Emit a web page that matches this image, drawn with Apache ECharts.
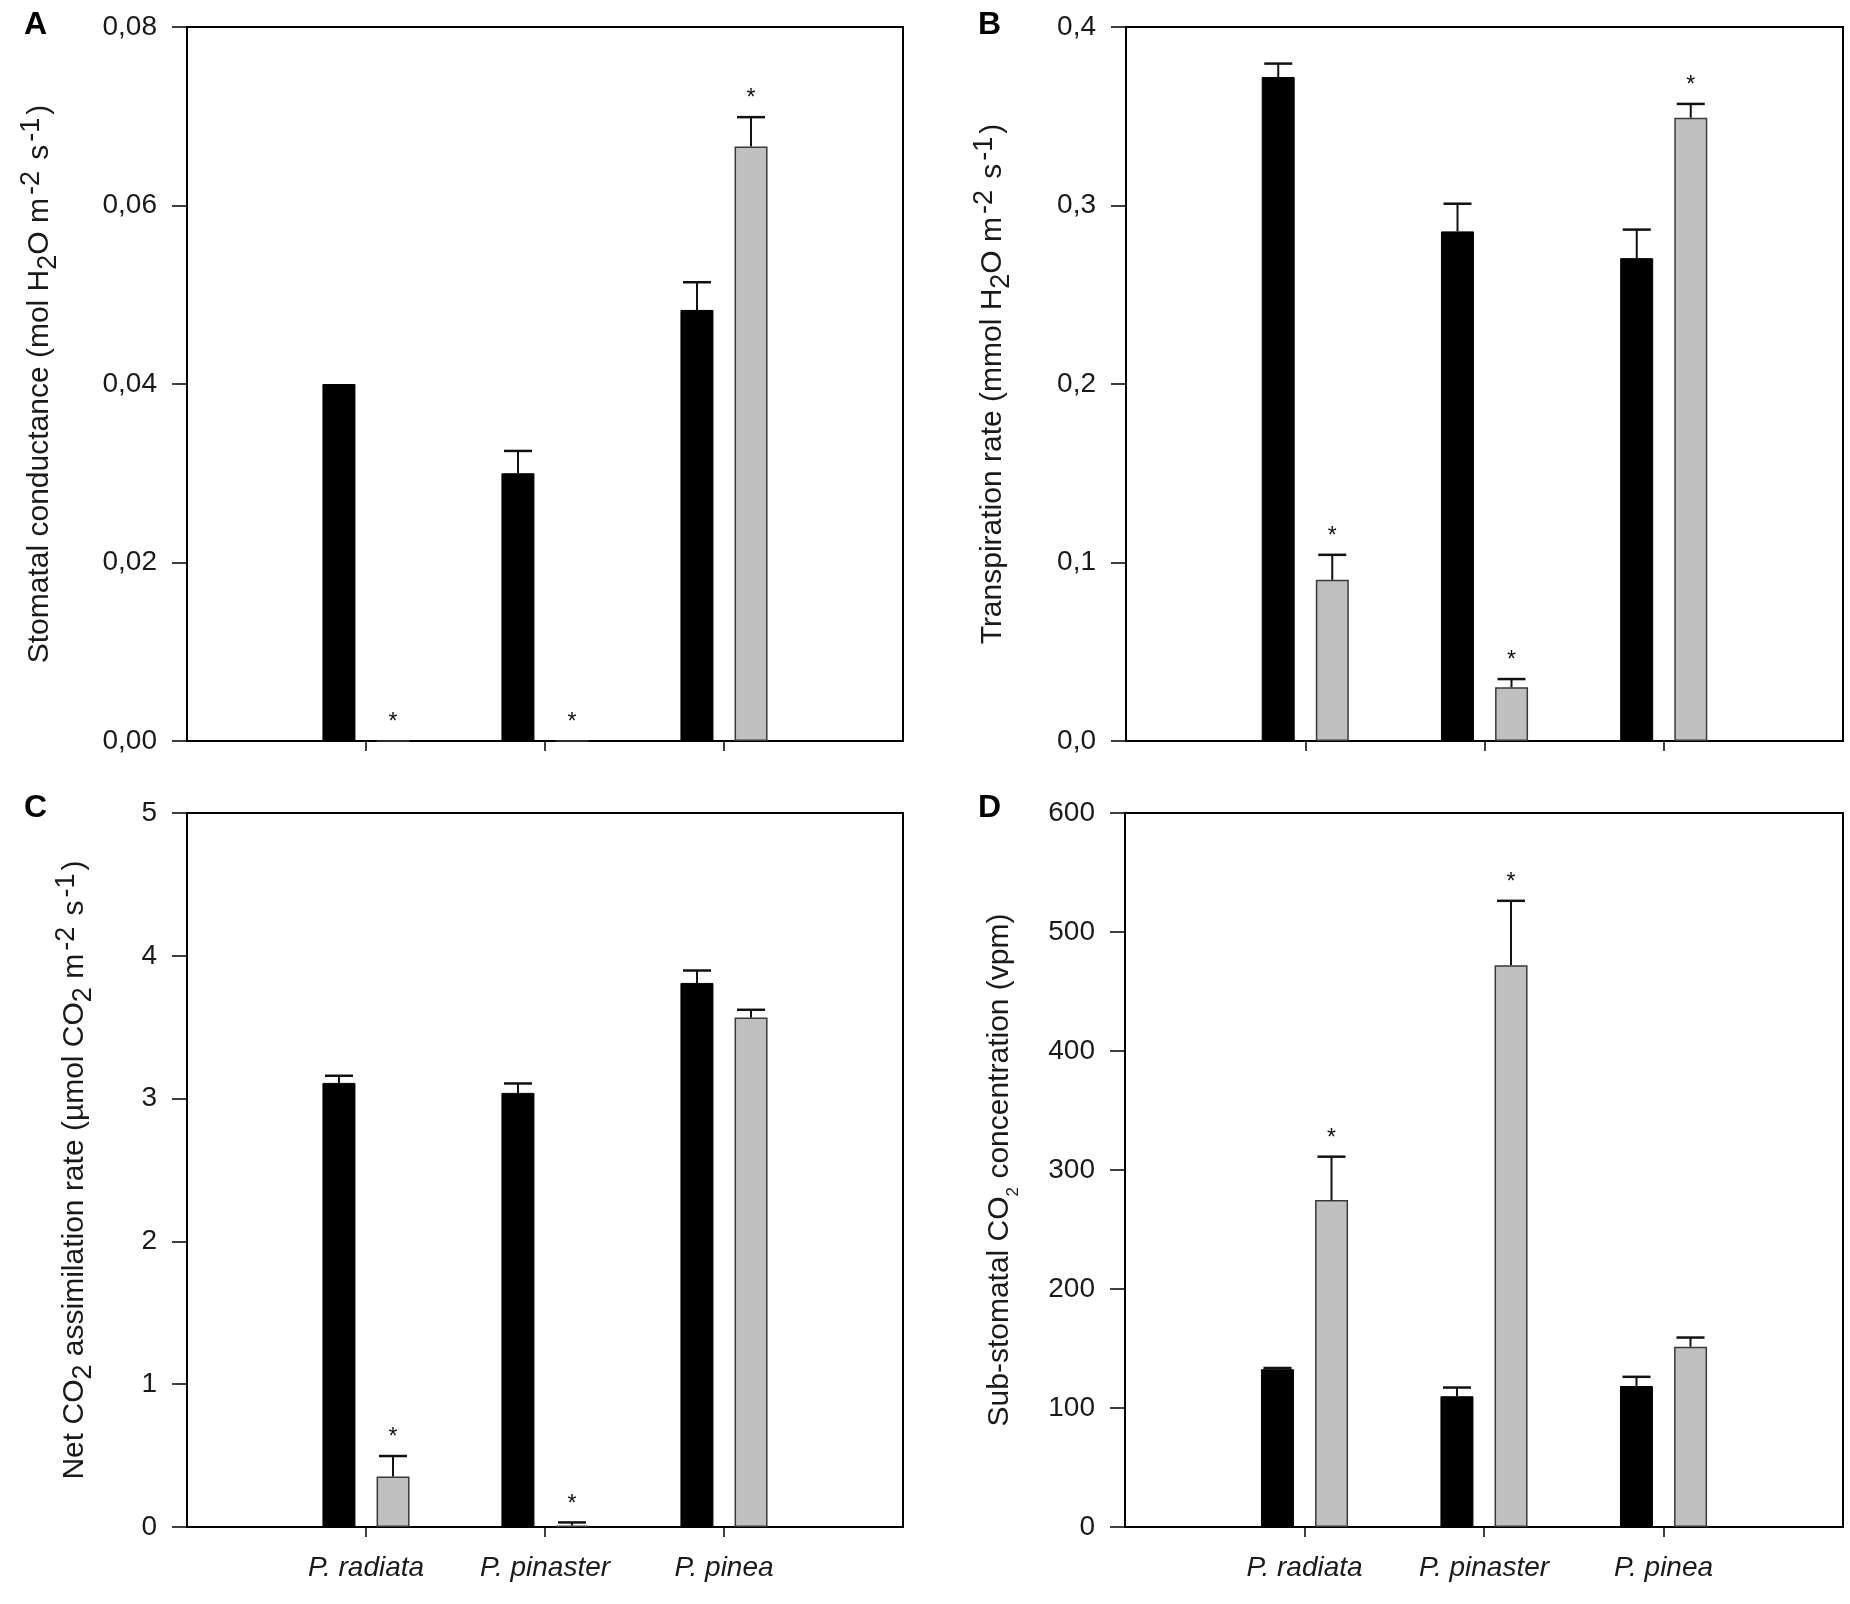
<!DOCTYPE html>
<html>
<head>
<meta charset="utf-8">
<title>Gas exchange</title>
<script src="https://cdn.jsdelivr.net/npm/echarts@6/dist/echarts.min.js"></script>
<style>
	html, body { margin: 0; padding: 0; background: #fff; }
	#chart { width: 1850px; height: 1604px; }
</style>
</head>
<body>
<div id="chart"></div>
<script>
/** **************** 数据 **************** */
var species = ['P. radiata', 'P. pinaster', 'P. pinea'];

// A  stomatal conductance
var gsWell = [0.0400, 0.0300, 0.0483];
var gsWellSe = [0, 0.0025, 0.0031];
var gsDry = [0, 0, 0.0666];
var gsDrySe = [0, 0, 0.0033];
var gsStar = [1, 1, 1];

// B  transpiration rate
var eWell = [0.372, 0.2855, 0.2705];
var eWellSe = [0.0075, 0.0155, 0.016];
var eDry = [0.0903, 0.0301, 0.3492];
var eDrySe = [0.014, 0.0046, 0.0077];
var eStar = [1, 1, 1];

// C  net CO2 assimilation rate
var anWell = [3.11, 3.04, 3.81];
var anWellSe = [0.05, 0.066, 0.087];
var anDry = [0.354, 0.01, 3.568];
var anDrySe = [0.143, 0.022, 0.054];
var anStar = [1, 1, 0];

// D  sub-stomatal CO2 concentration
var ciWell = [132.6, 109.9, 118.5];
var ciWellSe = [1, 7.3, 7.7];
var ciDry = [274.7, 472.1, 151.5];
var ciDrySe = [36.5, 54.1, 7.7];
var ciStar = [1, 1, 0];

/** **************** 样式 **************** */
var FONT = 'Liberation Sans, Arial, sans-serif';
var TXT = '#1a1a1a';
var BAR_OFFSET = 27;		// 柱中心到类目中心的距离

var cats = [''].concat(species, ['']);

function padded(arr) {
	return ['-'].concat(arr, ['-']);
}

function errData(mean, se, star) {
	return mean.map(function(v, i) {
		return [i + 1, v, v + se[i], star ? star[i] : 0];
	});
}

function errRender(offset) {
	return function(params, api) {
		var idx = api.value(0), mean = api.value(1), hi = api.value(2), star = api.value(3);
		var base = api.coord([idx, mean]);
		var top = api.coord([idx, hi]);
		var x = base[0] + offset;
		var children = [];
		if (hi > mean) {
			children.push({
				type: 'line',
				shape: { x1: x, y1: base[1], x2: x, y2: top[1] },
				style: { stroke: '#111', lineWidth: 2 }
			});
			children.push({
				type: 'line',
				shape: { x1: x - 14, y1: top[1], x2: x + 14, y2: top[1] },
				style: { stroke: '#111', lineWidth: 2.5 }
			});
		}
		if (star) {
			children.push({
				type: 'text',
				x: x, y: top[1] - 18,
				style: { text: '*', fontSize: 23, fontFamily: FONT, fill: '#111', align: 'center', verticalAlign: 'middle' }
			});
		}
		return { type: 'group', children: children };
	};
}

var nameRich = {
	sup: { fontSize: 27, fontFamily: FONT, color: TXT, lineHeight: 8, verticalAlign: 'top', padding: [0, 3, 0, 3] },
	sub: { fontSize: 27, fontFamily: FONT, color: TXT, lineHeight: 6, verticalAlign: 'bottom' },
	subs: { fontSize: 17, fontFamily: FONT, color: TXT, lineHeight: 14, verticalAlign: 'bottom' }
};

var panels = [{
	grid: { left: 187, top: 27, width: 716, height: 714 },
	max: 0.08, interval: 0.02, digits: 2, xLabels: false,
	name: 'Stomatal conductance (mol H{sub|2}O m{sup|-2} s{sup|-1})', nameGap: 125,
	well: gsWell, wellSe: gsWellSe, dry: gsDry, drySe: gsDrySe, star: gsStar
}, {
	grid: { left: 1126, top: 27, width: 717, height: 714 },
	max: 0.4, interval: 0.1, digits: 1, xLabels: false,
	name: 'Transpiration rate (mmol H{sub|2}O m{sup|-2} s{sup|-1})', nameGap: 111,
	well: eWell, wellSe: eWellSe, dry: eDry, drySe: eDrySe, star: eStar
}, {
	grid: { left: 187, top: 813, width: 716, height: 714 },
	max: 5, interval: 1, digits: 0, xLabels: true,
	name: 'Net CO{sub|2} assimilation rate (µmol CO{sub|2} m{sup|-2} s{sup|-1})', nameGap: 90,
	well: anWell, wellSe: anWellSe, dry: anDry, drySe: anDrySe, star: anStar
}, {
	grid: { left: 1125, top: 813, width: 718, height: 714 },
	max: 600, interval: 100, digits: 0, xLabels: true,
	name: 'Sub-stomatal CO{subs|2} concentration (vpm)', nameGap: 103,
	well: ciWell, wellSe: ciWellSe, dry: ciDry, drySe: ciDrySe, star: ciStar
}];

var option = {
	backgroundColor: '#fff',
	animation: false,
	grid: [], xAxis: [], yAxis: [], series: [],
	graphic: [
		{ type: 'text', x: 24, y: 25, style: { text: 'A', fontSize: 32, fontWeight: 'bold', fontFamily: FONT, fill: '#000', verticalAlign: 'middle' } },
		{ type: 'text', x: 978, y: 25, style: { text: 'B', fontSize: 32, fontWeight: 'bold', fontFamily: FONT, fill: '#000', verticalAlign: 'middle' } },
		{ type: 'text', x: 24, y: 808, style: { text: 'C', fontSize: 32, fontWeight: 'bold', fontFamily: FONT, fill: '#000', verticalAlign: 'middle' } },
		{ type: 'text', x: 978, y: 808, style: { text: 'D', fontSize: 32, fontWeight: 'bold', fontFamily: FONT, fill: '#000', verticalAlign: 'middle' } }
	]
};

panels.forEach(function(p, i) {
	option.grid.push(Object.assign({ show: true, borderColor: '#000', borderWidth: 2, backgroundColor: 'transparent' }, p.grid));
	option.xAxis.push({
		type: 'category', gridIndex: i, data: cats, boundaryGap: false,
		axisLine: { lineStyle: { color: '#000', width: 2 } },
		axisTick: {
			length: 10, lineStyle: { color: '#000', width: 1.5 },
			interval: function(idx) { return idx > 0 && idx < cats.length - 1; }
		},
		axisLabel: {
			show: p.xLabels, interval: 0, margin: 27,
			fontSize: 28, fontStyle: 'italic', fontFamily: FONT, color: TXT
		},
		splitLine: { show: false }
	});
	option.yAxis.push({
		type: 'value', gridIndex: i, min: 0, max: p.max, interval: p.interval,
		name: p.name, nameLocation: 'middle', nameGap: p.nameGap, nameRotate: 90,
		nameTextStyle: { fontSize: 30, fontFamily: FONT, color: TXT, lineHeight: 44, rich: nameRich },
		axisLine: { show: true, lineStyle: { color: '#000', width: 2 } },
		axisTick: { show: true, length: 15, lineStyle: { color: '#000', width: 1.5 } },
		axisLabel: {
			margin: 30, fontSize: 28, fontFamily: FONT, color: TXT,
			formatter: (function(d) {
				return function(v) { return v.toFixed(d).replace('.', ','); };
			})(p.digits)
		},
		splitLine: { show: false }
	});
	option.series.push({
		type: 'bar', name: 'control', xAxisIndex: i, yAxisIndex: i,
		data: padded(p.well), barWidth: 33, barGap: '64%',
		itemStyle: { color: '#000', borderColor: '#000', borderWidth: 1 }
	}, {
		type: 'bar', name: 'drought', xAxisIndex: i, yAxisIndex: i,
		data: padded(p.dry), barWidth: 33, barGap: '64%',
		itemStyle: { color: '#c0c0c0', borderColor: '#3a3a3a', borderWidth: 1.5 }
	}, {
		type: 'custom', xAxisIndex: i, yAxisIndex: i, z: 5,
		data: errData(p.well, p.wellSe), encode: { x: 0, y: [1, 2] },
		renderItem: errRender(-BAR_OFFSET)
	}, {
		type: 'custom', xAxisIndex: i, yAxisIndex: i, z: 5,
		data: errData(p.dry, p.drySe, p.star), encode: { x: 0, y: [1, 2] },
		renderItem: errRender(BAR_OFFSET)
	});
});

var myChart = echarts.init(document.getElementById('chart'));
myChart.setOption(option);
</script>
</body>
</html>
